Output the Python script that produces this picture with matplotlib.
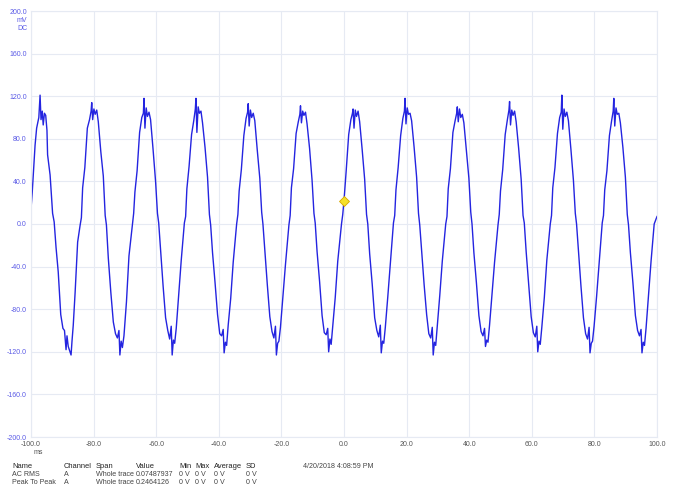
import numpy as np
import matplotlib
matplotlib.use("Agg")
import matplotlib.pyplot as plt

plt.rcParams["font.family"] = ["Liberation Sans", "DejaVu Sans"]

t_start = [-100.0, -99.6, -99.2, -98.7, -98.2, -97.5, -97.1, -96.8, -96.4, -96.1, -95.7, -95.3, -94.9, -94.7, -93.9,
           -93.1, -92.6, -92.0, -91.3, -90.5, -89.8, -89.3, -88.8, -88.5, -88.1, -87.2, -86.9, -86.5, -85.9, -85.1]
v_start = [14, 30, 49, 74, 90, 100, 121, 98, 106, 93, 104, 102, 88, 65, 46,
           10, 2, -22, -45, -85, -98, -100, -118, -105, -115, -123, -110, -95, -64, -17]

t_cycles = [
    [-84.3, -83.9, -83.5, -82.8, -82.0, -81.3, -80.8, -80.6, -80.3, -79.9, -79.5, -79.0, -78.5, -77.7, -76.9, -76.3, -75.9, -75.3, -74.5, -73.7, -73.0, -72.4, -71.9, -71.6, -71.2, -70.8, -70.3, -69.5, -68.7],
    [-67.6, -67.2, -66.8, -66.1, -65.3, -64.6, -64.1, -63.9, -63.6, -63.2, -62.8, -62.3, -61.8, -61.0, -60.2, -59.6, -59.2, -58.6, -57.8, -57.0, -56.3, -55.7, -55.2, -54.9, -54.5, -54.1, -53.6, -52.8, -52.0],
    [-51.0, -50.6, -50.2, -49.5, -48.7, -48.0, -47.5, -47.3, -47.0, -46.6, -46.2, -45.7, -45.2, -44.4, -43.6, -43.0, -42.6, -42.0, -41.2, -40.4, -39.7, -39.1, -38.6, -38.3, -37.9, -37.5, -37.0, -36.2, -35.4],
    [-34.3, -33.9, -33.5, -32.8, -32.0, -31.3, -30.8, -30.6, -30.3, -29.9, -29.5, -29.0, -28.5, -27.7, -26.9, -26.3, -25.9, -25.3, -24.5, -23.7, -23.0, -22.4, -21.9, -21.6, -21.2, -20.8, -20.3, -19.5, -18.7],
    [-17.6, -17.2, -16.8, -16.1, -15.3, -14.6, -14.1, -13.9, -13.6, -13.2, -12.8, -12.3, -11.8, -11.0, -10.2, -9.6, -9.2, -8.6, -7.8, -7.0, -6.3, -5.7, -5.2, -4.9, -4.5, -4.1, -3.6, -2.8, -2.0],
    [-0.8, -0.4, 0.0, 0.7, 1.5, 2.2, 2.7, 2.9, 3.2, 3.6, 4.0, 4.5, 5.0, 5.8, 6.6, 7.2, 7.6, 8.2, 9.0, 9.8, 10.5, 11.1, 11.6, 11.9, 12.3, 12.7, 13.2, 14.0, 14.8],
    [15.8, 16.2, 16.6, 17.3, 18.1, 18.8, 19.3, 19.5, 19.8, 20.2, 20.6, 21.1, 21.6, 22.4, 23.2, 23.8, 24.2, 24.8, 25.6, 26.4, 27.1, 27.7, 28.2, 28.5, 28.9, 29.3, 29.8, 30.6, 31.4],
    [32.5, 32.9, 33.3, 34.0, 34.8, 35.5, 36.0, 36.2, 36.5, 36.9, 37.3, 37.8, 38.3, 39.1, 39.9, 40.5, 40.9, 41.5, 42.3, 43.1, 43.8, 44.4, 44.9, 45.2, 45.6, 46.0, 46.5, 47.3, 48.1],
    [49.2, 49.6, 50.0, 50.7, 51.5, 52.2, 52.7, 52.9, 53.2, 53.6, 54.0, 54.5, 55.0, 55.8, 56.6, 57.2, 57.6, 58.2, 59.0, 59.8, 60.5, 61.1, 61.6, 61.9, 62.3, 62.7, 63.2, 64.0, 64.8],
    [65.9, 66.3, 66.7, 67.4, 68.2, 68.9, 69.4, 69.6, 69.9, 70.3, 70.7, 71.2, 71.7, 72.5, 73.3, 73.9, 74.3, 74.9, 75.7, 76.5, 77.2, 77.8, 78.3, 78.6, 79.0, 79.4, 79.9, 80.7, 81.5],
    [82.5, 82.9, 83.3, 84.0, 84.8, 85.5, 86.0, 86.2, 86.5, 86.9, 87.3, 87.8, 88.3, 89.1, 89.9, 90.5, 90.9, 91.5, 92.3, 93.1, 93.8, 94.4, 94.9, 95.2, 95.6, 96.0, 96.5, 97.3, 98.1],
    [99.1, 99.5, 100.0],
]
v_cycles = [
    [-1, 6, 34, 53, 90, 98, 106, 114, 98, 108, 103, 107, 96, 68, 45, 8, -1, -32, -64, -92, -103, -107, -100, -123, -110, -116, -105, -73, -30],
    [0, 10, 30, 50, 86, 100, 104, 118, 90, 109, 101, 105, 98, 70, 40, 10, 1, -24, -58, -88, -100, -108, -96, -123, -109, -112, -98, -66, -34],
    [1, 7, 33, 54, 84, 97, 108, 118, 86, 110, 104, 106, 95, 72, 44, 9, -1, -27, -55, -85, -103, -105, -99, -121, -111, -114, -95, -70, -36],
    [0, 9, 31, 51, 83, 99, 105, 113, 92, 107, 100, 104, 97, 69, 43, 11, 0, -25, -57, -87, -101, -107, -96, -123, -112, -110, -97, -67, -38],
    [-1, 8, 34, 52, 85, 96, 103, 111, 95, 106, 102, 105, 94, 71, 41, 10, 1, -26, -54, -86, -102, -104, -98, -120, -108, -113, -96, -69, -35],
    [0, 9, 22, 50, 84, 98, 104, 108, 90, 107, 101, 106, 96, 70, 42, 9, 0, -28, -56, -88, -100, -106, -95, -121, -110, -112, -97, -68, -37],
    [1, 8, 32, 53, 83, 99, 106, 118, 94, 109, 103, 104, 97, 72, 44, 10, -1, -25, -57, -85, -103, -107, -97, -123, -111, -114, -96, -67, -35],
    [0, 7, 33, 52, 86, 97, 104, 110, 96, 108, 100, 103, 95, 69, 43, 11, 0, -27, -55, -86, -101, -105, -98, -115, -109, -111, -95, -66, -36],
    [-1, 9, 31, 51, 84, 98, 107, 115, 93, 107, 102, 106, 96, 71, 42, 8, 1, -26, -56, -87, -102, -106, -96, -120, -110, -113, -97, -69, -34],
    [0, 8, 34, 53, 85, 100, 105, 121, 89, 108, 101, 105, 97, 70, 41, 10, 0, -25, -58, -88, -103, -108, -97, -121, -112, -110, -96, -68, -37],
    [1, 8, 32, 50, 83, 97, 106, 118, 92, 109, 103, 104, 95, 72, 44, 9, -1, -27, -55, -86, -100, -105, -99, -121, -111, -114, -98, -67, -35],
    [0, 3, 7],
]

ruler_t, ruler_v = 0.0, 22

x_ticks = [-100, -80, -60, -40, -20, 0, 20, 40, 60, 80, 100]
y_ticks = [-200, -160, -120, -80, -40, 0, 40, 80, 120, 160, 200]

table_header = ["Name", "Channel", "Span", "Value", "Min", "Max", "Average", "SD"]
table_rows = [
    ["AC RMS", "A", "Whole trace", "0.07487937", "0 V", "0 V", "0 V", "0 V"],
    ["Peak To Peak", "A", "Whole trace", "0.2464126", "0 V", "0 V", "0 V", "0 V"],
]
timestamp = "4/20/2018 4:08:59 PM"

t = np.concatenate([t_start] + t_cycles)
v = np.concatenate([v_start] + v_cycles)

W, H = 673, 491
fig = plt.figure(figsize=(W / 100, H / 100), dpi=100)
ax = fig.add_axes([31 / W, 1 - 437 / H, (657 - 31) / W, (437 - 11) / H])

grid_col = "#e6eaf3"
blue_txt = "#5a5ae6"
ax.set_xlim(-100, 100)
ax.set_ylim(-200, 200)
ax.set_xticks(x_ticks)
ax.set_yticks(y_ticks)
ax.set_xticklabels([f"{x:.1f}" for x in x_ticks], fontsize=5, color="#555555")
ax.set_yticklabels([f"{y:.1f}" for y in y_ticks], fontsize=5, color=blue_txt)
ax.tick_params(length=0, pad=3)
ax.grid(True, color=grid_col, linewidth=0.8)
for s in ax.spines.values():
    s.set_color(grid_col)
    s.set_linewidth(0.8)
ax.set_axisbelow(True)

ax.plot(t, v, color="#2424e0", linewidth=1.0)
ax.plot([ruler_t], [ruler_v], marker="D", markersize=5, color="#f5e02a",
        markeredgecolor="#d8a800", markeredgewidth=0.6, zorder=5)

# units under the top y label
fig.text(27 / W, 1 - 20 / H, "mV", fontsize=5, color=blue_txt, ha="right", va="center")
fig.text(27 / W, 1 - 28 / H, "DC", fontsize=5, color=blue_txt, ha="right", va="center")
fig.text(38 / W, 1 - 453 / H, "ms", fontsize=5, color="#555555", ha="center", va="center")

# measurement table
col_x = [12, 64, 96, 136, 179, 195, 214, 246]
row_y = [466, 474, 482]
for cx, txt in zip(col_x, table_header):
    fig.text(cx / W, 1 - row_y[0] / H, txt, fontsize=5.4, color="#222222", va="center")
for ry, row in zip(row_y[1:], table_rows):
    for cx, txt in zip(col_x, row):
        fig.text(cx / W, 1 - ry / H, txt, fontsize=5.1, color="#444444", va="center")
fig.text(303 / W, 1 - row_y[0] / H, timestamp, fontsize=5.1, color="#444444", va="center")

fig.savefig("out.png", dpi=100)
